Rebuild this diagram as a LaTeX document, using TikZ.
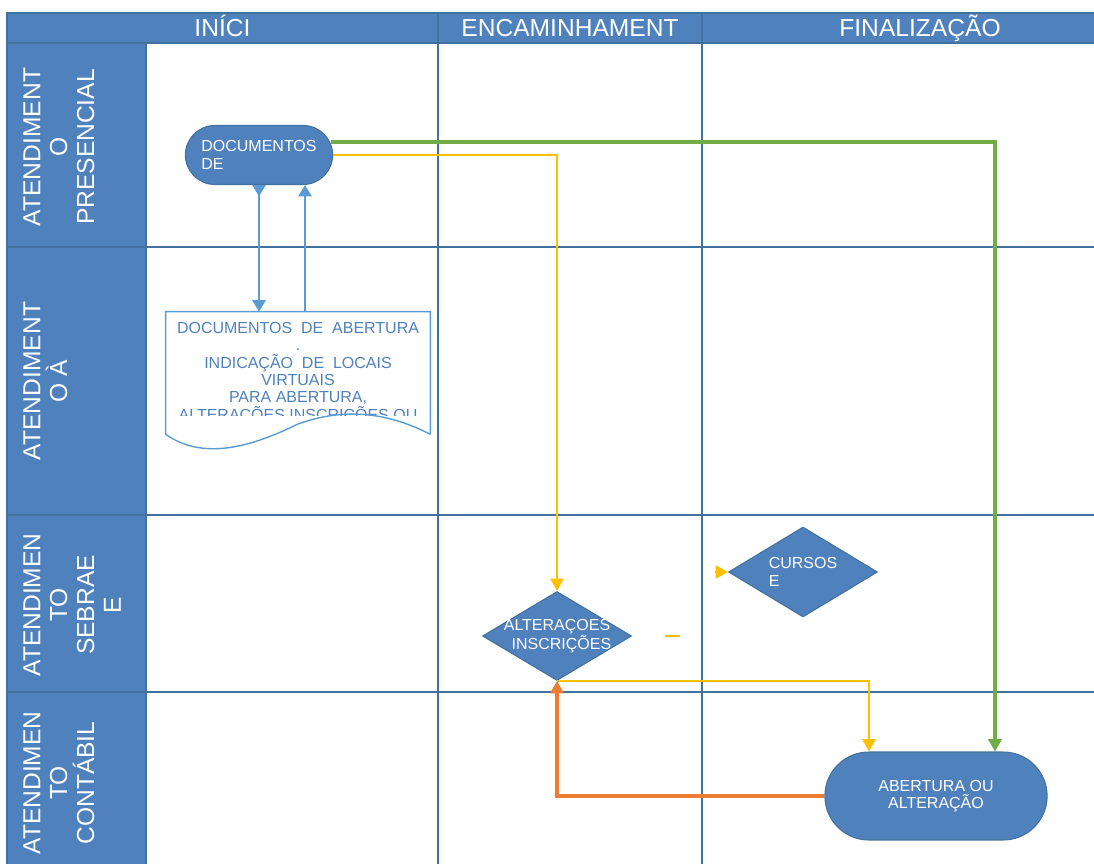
\documentclass[tikz,border=0pt]{standalone}
\usepackage{fontspec}
\setmainfont{Liberation Sans}
\usetikzlibrary{shapes,arrows.meta,calc}

\definecolor{laneblue}{RGB}{79,129,189}
\definecolor{gridblue}{RGB}{65,113,156}
\definecolor{arrowblue}{RGB}{91,155,213}
\definecolor{flowyellow}{RGB}{255,192,0}
\definecolor{flowgreen}{RGB}{112,173,71}
\definecolor{floworange}{RGB}{237,125,49}

\newcommand{\lanefont}{\fontsize{14}{15.3}\selectfont}
\newcommand{\boxfont}{\fontsize{9.1}{9.9}\selectfont}

\begin{document}
\begin{tikzpicture}[
        x=0.02cm, y=-0.02cm,
        >={Triangle[length=7pt, width=7.5pt]},
        swimline/.style={draw=gridblue, line width=0.9pt},
        lanecell/.style={fill=laneblue, draw=gridblue, line width=0.9pt},
        headcell/.style={draw=gridblue, fill=laneblue, line width=0.9pt, text=white, font=\lanefont, minimum height=0.6cm, text height=3.5mm, text depth=0pt, inner sep=0pt},
        lanetext/.style={rotate=90, anchor=north, align=center, text=white, inner sep=0pt, font=\lanefont},
        terminal/.style={rounded rectangle, draw=gridblue, fill=laneblue, line width=0.6pt, text=white, font=\boxfont},
        decision/.style={diamond, draw=gridblue, fill=laneblue, line width=0.6pt, inner sep=0pt},
        dectext/.style={text=white, font=\boxfont},
        yflow/.style={draw=flowyellow, line width=1.1pt},
        gflow/.style={draw=flowgreen, line width=1.8pt},
        oflow/.style={draw=floworange, line width=2.2pt},
        bflow/.style={draw=arrowblue, line width=1.2pt}
        ]

        \useasboundingbox (0,0) rectangle (1094,864);
        \clip (0,0) rectangle (1094,864);

        % lanes
        \filldraw[lanecell] (7,43) rectangle (146,247);
        \filldraw[lanecell] (7,247) rectangle (146,515);
        \filldraw[lanecell] (7,515) rectangle (146,692);
        \filldraw[lanecell] (7,692) rectangle (146,870);
        \foreach \y in {247,515,692} \draw[swimline] (146,\y) -- (1094,\y);
        \foreach \x in {438,702} \draw[swimline] (\x,43) -- (\x,870);

        \node[headcell, minimum width=8.62cm] (inici) at (222.5,28) {INÍCI};
        \node[headcell, minimum width=5.28cm] (encam) at (570,28) {ENCAMINHAMENT};
        \node[headcell, minimum width=8.72cm] (final) at (920,28) {FINALIZAÇÃO};

        \node[lanetext] (presencial) at (23,147) {ATENDIMENT\\O\\PRESENCIAL};
        \node[lanetext] (distancia) at (23,381) {ATENDIMENT\\O À};
        \node[lanetext] (sebrae) at (23,605) {ATENDIMEN\\TO\\SEBRAE\\E};
        \node[lanetext] (contabil) at (23,783) {ATENDIMEN\\TO\\CONTÁBIL};

        % steps
        \node[terminal, align=left, minimum width=3.18cm, minimum height=1.18cm] (docin) at (259,155) {DOCUMENTOS\\DE};

        \begin{scope}
          \clip (166,300) rectangle (430,415);
          \node[align=center, text=laneblue, font=\boxfont, minimum width=5.28cm, minimum height=2.44cm, inner sep=0pt] (docs) at (298,373)
          {DOCUMENTOS\ \ DE\ \ ABERTURA\\.\\INDICAÇÃO\ \ DE\ \ LOCAIS\\VIRTUAIS\\PARA ABERTURA,\\ALTERAÇÕES INSCRIÇÕES OU};
        \end{scope}
        \draw[draw=arrowblue, line width=0.8pt] (docs.south east) -- (docs.north east) -- (docs.north west) -- (docs.south west)
          .. controls (205,462) and (255,445) .. (298,424)
          .. controls (350,405) and (395,416) .. (docs.south east);

        \node[decision, minimum width=2.98cm, minimum height=1.78cm,
          label={[dectext, align=center]center:{ALTERAÇOES\\\ \ INSCRIÇÕES}}] (alter) at (557,636) {};
        \node[decision, minimum width=2.98cm, minimum height=1.8cm,
          label={[dectext, align=left]center:{CURSOS\\E\phantom{URSOS}}}] (cursos) at (803,572) {};

        \node[terminal, align=center, minimum width=4.68cm, minimum height=1.76cm] (fim) at (936,796) {ABERTURA OU\\ALTERAÇÃO};

        \coordinate (gturn) at (995,142);
        \coordinate (yturn) at (869,681);
        \coordinate (upx) at (305,312);
        \coordinate (cursosin) at (715,572);
        \coordinate (stub) at (665,636);

        % Edges
        \draw[gflow, ->] ($(docin.east)+(-2,-13)$) -- (gturn) -- (gturn |- fim.north);
        \draw[yflow, ->] (docin.east) -| (alter.north);
        \draw[yflow, ->] (alter.south) -- (yturn) -- (yturn |- fim.north);
        \draw[oflow, ->] (fim.west) -| (alter.south);
        \draw[bflow, {Triangle[reversed, length=6.5pt, width=7.5pt]}-{Triangle[length=6.5pt, width=7.5pt]}] (docin.south) -- (docin.south |- docs.north);
        \draw[bflow, -{Triangle[length=6.5pt, width=7.5pt]}] (upx) -- (upx |- docin.south);
        \draw[yflow, ->] (cursosin) -- (cursos.west);
        \draw[yflow] (stub) -- ++(15,0);

      \end{tikzpicture}
\end{document}
